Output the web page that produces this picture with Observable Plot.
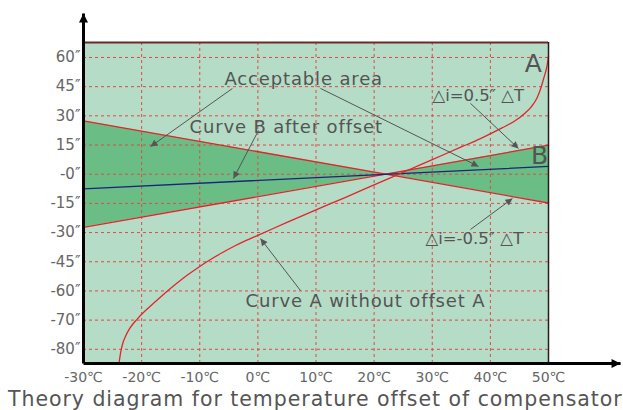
<!DOCTYPE html>
<html><head><meta charset="utf-8">
<script src="https://cdn.jsdelivr.net/npm/d3@7"></script>
<script src="https://cdn.jsdelivr.net/npm/@observablehq/plot@0.6"></script>
<style>
body{margin:0;background:#fff;}
#chart svg{display:block;}
#cap{font-family:"DejaVu Sans",sans-serif;font-size:20.5px;color:#555;white-space:nowrap;line-height:24px;padding-left:8px;letter-spacing:0.95px;}
</style></head><body><div id="chart"></div><div id="cap">Theory diagram for temperature offset of compensator</div>
<script>
// ---- data ----
const xTicks = [-30, -20, -10, 0, 10, 20, 30, 40, 50];
const xTickLabels = ["-30℃", "-20℃", "-10℃", "0℃", "10℃", "20℃", "30℃", "40℃", "50℃"];
const yTicks = [60, 45, 30, 15, 0, -15, -30, -45, -60, -75, -90];
const yTickLabels = ["60″", "45″", "30″", "15″", "-0″", "-15″", "-30″", "-45″", "-60″", "-70″", "-80″"];

// boundary lines Δi = ±0.5″ΔT (crossing near 22℃)
const boundT = [-30, 22, 50];
const boundMinusSlope = [27.4, 0, -14.8];
const boundPlusSlope = [-27.3, 0, 14.9];

// Curve B after offset
const curveBT = [-30, 50];
const curveBV = [-7.5, 4.0];

// Curve A without offset
const curveAT = [-23.9, -23.6, -23.2, -22.8, -22.2, -21.5, -20.8, -20, -18, -16, -14, -12, -10, -8, -6, -4, -2, 0, 5, 10, 15, 20, 25, 30, 35, 38.3, 42, 44, 46, 47, 48, 48.6, 49.2, 49.7, 50];
const curveAV = [-97.5, -91.5, -86.5, -83.5, -80, -77, -74.6, -72, -66.5, -61.2, -56.2, -51.6, -47.4, -43.6, -40.1, -36.9, -34.0, -31.4, -24.8, -18.3, -12, -5.5, 1, 7.5, 14, 18.3, 23.8, 27, 31.5, 34.5, 39, 43.5, 49.5, 55, 60.5];

// annotations
const noteText = ["Acceptable area", "Curve B after offset", "Curve A without offset A"];
const noteX = [-5.74, -11.76, -2.13];
const noteY = [48.7, 24.0, -65.3];
const deltaText = ["△i=0.5″ △T", "△i=-0.5″ △T"];
const deltaX = [30.04, 28.84];
const deltaY = [40.5, -33.1];
const bigText = ["A", "B"];
const bigX = [47.4, 48.45];
const bigY = [56.9, 9.6];

const arrowX1 = [-4.37, 10.77, 0.11, 36.58, 36.58, 7.33];
const arrowY1 = [44.1, 44.1, 22.5, 36.4, -28.4, -59.8];
const arrowX2 = [-18.47, 37.96, -4.2, 44.84, 43.8, 0.45];
const arrowY2 = [14.2, 4.0, -2.2, 13.2, -12.5, -33.1];

// scale extents (domain) and axis arrow extents
const xDomain = [-30, 50];
const yDomain = [-97.3, 67.7];
const xAxisEnd = 62.4;
const yAxisEnd = 82.6;

// ---- derived tables ----
const bounds = boundT.map((t, i) => ({t, a: boundMinusSlope[i], b: boundPlusSlope[i]}));
const curveB = curveBT.map((t, i) => ({t, v: curveBV[i]}));
const curveA = curveAT.map((t, i) => ({t, v: curveAV[i]}));
const notes = noteText.map((s, i) => ({s, x: noteX[i], y: noteY[i]}));
const deltas = deltaText.map((s, i) => ({s, x: deltaX[i], y: deltaY[i]}));
const bigs = bigText.map((s, i) => ({s, x: bigX[i], y: bigY[i]}));
const arrows = arrowX1.map((x1, i) => ({x1, y1: arrowY1[i], x2: arrowX2[i], y2: arrowY2[i]}));
const axes = [
  {x1: xDomain[0], y1: yDomain[0], x2: xDomain[0], y2: yAxisEnd},
  {x1: xDomain[0], y1: yDomain[0], x2: xAxisEnd, y2: yDomain[0]}
];

const light = "#b5dcc6", dark = "#69bd85", red = "#e5232b", grid = "#e04a4a";
const font = "DejaVu Sans, sans-serif";
const annotColor = "#555555", axisColor = "#010101";

const plot = Plot.plot({
  width: 623,
  height: 387,
  marginLeft: 83,
  marginRight: 75,
  marginTop: 42,
  marginBottom: 24,
  style: {fontFamily: font, background: "transparent", overflow: "visible"},
  x: {domain: xDomain, axis: null},
  y: {domain: yDomain, axis: null},
  marks: [
    Plot.frame({fill: light, stroke: "none"}),
    Plot.areaY(bounds, {x: "t", y1: "a", y2: "b", fill: dark}),
    Plot.ruleX(xTicks.slice(1, -1), {stroke: grid, strokeDasharray: "3,3", strokeWidth: 1}),
    Plot.ruleY(yTicks, {stroke: grid, strokeDasharray: "3,3", strokeWidth: 1}),
    Plot.line(bounds, {x: "t", y: "a", stroke: red, strokeWidth: 1.3}),
    Plot.line(bounds, {x: "t", y: "b", stroke: red, strokeWidth: 1.3}),
    Plot.line(curveB, {x: "t", y: "v", stroke: "#1d237a", strokeWidth: 1.3}),
    Plot.line(curveA, {x: "t", y: "v", stroke: red, strokeWidth: 1.3, curve: "monotone-x"}),
    Plot.ruleY([yDomain[1]], {stroke: "#6a2a2a", strokeWidth: 2}),
    Plot.ruleX([xDomain[1]], {stroke: "#2a1a1a", strokeWidth: 1.5}),
    Plot.link(arrows, {x1: "x1", y1: "y1", x2: "x2", y2: "y2", stroke: annotColor, strokeWidth: 1}),
    Plot.link(axes, {x1: "x1", y1: "y1", x2: "x2", y2: "y2", stroke: axisColor, strokeWidth: 3}),
    Plot.text(notes, {x: "x", y: "y", text: "s", textAnchor: "start", fontSize: 18, fill: "#545454"}),
    Plot.text(deltas, {x: "x", y: "y", text: "s", textAnchor: "start", fontSize: 16.5, fill: "#545454"}),
    Plot.text(bigs, {x: "x", y: "y", text: "s", fontSize: 25, fill: "#545454"}),
    Plot.text(yTicks.map((v, i) => ({v, s: yTickLabels[i]})), {x: xDomain[0], y: "v", text: "s", textAnchor: "end", dx: -3, fontSize: 15, fill: "#666"}),
    Plot.text(xTicks.map((v, i) => ({v, s: xTickLabels[i]})), {x: "v", y: yDomain[0], text: "s", dy: 14, fontSize: 14, fill: "#666"})
  ]
});

// filled arrowheads
const ns = "http://www.w3.org/2000/svg";
const defs = document.createElementNS(ns, "defs");
function mk(id, w, h, color) {
  const m = document.createElementNS(ns, "marker");
  m.setAttribute("id", id);
  m.setAttribute("viewBox", "0 0 10 10");
  m.setAttribute("refX", "10");
  m.setAttribute("refY", "5");
  m.setAttribute("markerWidth", w);
  m.setAttribute("markerHeight", h);
  m.setAttribute("markerUnits", "userSpaceOnUse");
  m.setAttribute("orient", "auto");
  const p = document.createElementNS(ns, "path");
  p.setAttribute("d", "M0,0L10,5L0,10z");
  p.setAttribute("fill", color);
  m.appendChild(p);
  defs.appendChild(m);
}
mk("ah-annot", 9, 7, annotColor);
mk("ah-axis", 12, 9, "#000");
plot.insertBefore(defs, plot.firstChild);
plot.querySelectorAll("g").forEach(g => {
  const s = g.getAttribute("stroke");
  if (s === annotColor) g.querySelectorAll("path").forEach(p => p.setAttribute("marker-end", "url(#ah-annot)"));
  if (s === axisColor) g.querySelectorAll("path").forEach(p => p.setAttribute("marker-end", "url(#ah-axis)"));
  if (g.getAttribute("aria-label") === "text" && g.getAttribute("font-size") === "18") g.setAttribute("letter-spacing", "0.85");
});
document.getElementById("chart").appendChild(plot);
</script>
</body></html>
